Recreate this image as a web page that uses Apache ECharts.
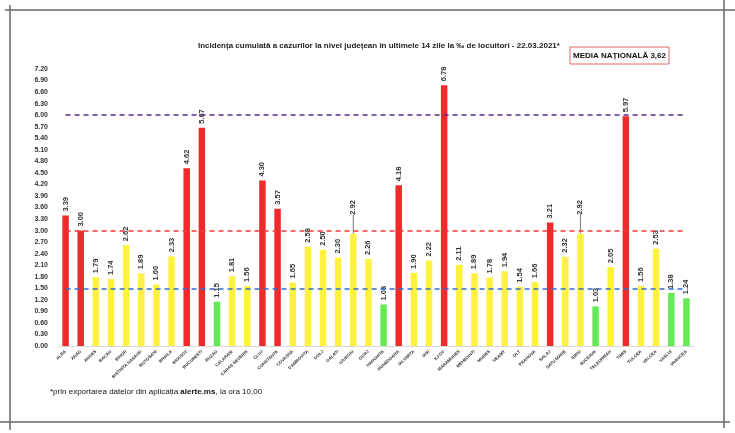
<!DOCTYPE html>
<html>
<head>
<meta charset="utf-8">
<script src="https://cdn.jsdelivr.net/npm/echarts@6/dist/echarts.min.js"></script>
<style>html,body{margin:0;padding:0;background:#fff}#c{width:735px;height:433px}</style>
</head>
<body>
<div id="c"></div>
<script>
const counties = ['ALBA','ARAD','ARGES','BACAU','BIHOR','BISTRITA NASAUD','BOTOSANI','BRAILA','BRASOV','BUCURESTI','BUZAU','CALARASI','CARAS SEVERIN','CLUJ','CONSTANTA','COVASNA','DAMBOVITA','DOLJ','GALATI','GIURGIU','GORJ','HARGHITA','HUNEDOARA','IALOMITA','IASI','ILFOV','MARAMURES','MEHEDINTI','MURES','NEAMT','OLT','PRAHOVA','SALAJ','SATU MARE','SIBIU','SUCEAVA','TELEORMAN','TIMIS','TULCEA','VALCEA','VASLUI','VRANCEA'];
const incidence = [3.39,3.00,1.79,1.74,2.62,1.89,1.60,2.33,4.62,5.67,1.15,1.81,1.56,4.30,3.57,1.65,2.58,2.50,2.30,2.92,2.26,1.08,4.18,1.90,2.22,6.78,2.11,1.89,1.78,1.94,1.54,1.66,3.21,2.32,2.92,1.03,2.05,5.97,1.56,2.53,1.38,1.24];
const thresholds = [6.0, 3.0, 1.5];
const nationalAverage = '3,62';
const raisedLabels = ['GIURGIU','SIBIU'];

const RED = '#EE2B2B', YEL = '#FFF23E', GRN = '#66E957';
function barColor(v){ return v >= thresholds[1] ? RED : (v < thresholds[2] ? GRN : YEL); }

const chart = echarts.init(document.getElementById('c'), null, {renderer:'canvas'});
const lineColors = ['#5A2A92', '#F03A3A', '#2E6FD0'];
const markData = thresholds.map((t,i) => [
  {coord:[counties[0], t], lineStyle:{color:lineColors[i], type:[5,4], width:1.5}},
  {coord:[counties[counties.length-1], t]}
]);

chart.setOption({
  animation:false,
  backgroundColor:'#fff',
  title:{
    text:'Incidența cumulată a cazurilor la nivel județean în ultimele 14 zile la ‰ de locuitori - 22.03.2021*',
    left:193, top:37,
    textStyle:{fontSize:8, fontWeight:'bold', color:'#222', fontFamily:'Liberation Sans'}
  },
  grid:{left:58, right:41, top:69, bottom:87, containLabel:false},
  xAxis:{
    type:'category', data:counties,
    axisLine:{lineStyle:{color:'#d9d9d9', width:1}},
    axisTick:{show:false},
    axisLabel:{interval:0, rotate:43, fontSize:4.3, fontWeight:'bold', color:'#333', margin:5, fontFamily:'Liberation Sans'}
  },
  yAxis:{
    type:'value', min:0, max:7.2, interval:0.3,
    splitLine:{show:false}, axisLine:{show:false}, axisTick:{show:false},
    axisLabel:{formatter:v=>v.toFixed(2), fontSize:7, fontWeight:'bold', color:'#333', margin:10, fontFamily:'Liberation Sans'}
  },
  series:[{
    type:'bar',
    data: incidence.map((v,i) => {
      const item = {value:v, itemStyle:{color:barColor(v)}};
      if (raisedLabels.indexOf(counties[i]) >= 0) item.labelLine = {show:true, lineStyle:{color:'#777', width:1}};
      return item;
    }),
    barWidth:6.5,
    label:{
      show:true, position:'top', rotate:90, align:'left', verticalAlign:'middle', distance:4,
      formatter:p=>p.value.toFixed(2), fontSize:7.5, fontWeight:'bold', color:'#333', fontFamily:'Liberation Sans'
    },
    labelLine:{show:false},
    labelLayout:function(p){
      if (raisedLabels.indexOf(counties[p.dataIndex]) >= 0) return {dx:15};
      return {};
    },
    markLine:{silent:true, symbol:'none', label:{show:false}, data:markData}
  }],
  graphic:[
    {type:'line', shape:{x1:10, y1:5, x2:10, y2:430}, style:{stroke:'#666', lineWidth:1.5}},
    {type:'line', shape:{x1:5, y1:10, x2:735, y2:10}, style:{stroke:'#666', lineWidth:1.5}},
    {type:'line', shape:{x1:724, y1:0, x2:724, y2:428}, style:{stroke:'#666', lineWidth:1.5}},
    {type:'line', shape:{x1:0, y1:422, x2:730, y2:422}, style:{stroke:'#666', lineWidth:1.5}},
    {type:'rect', shape:{x:570, y:47, width:99, height:17}, style:{fill:'#fff', stroke:'#E06666', lineWidth:1}},
    {type:'text', x:619.5, y:55.5, style:{text:'MEDIA NAȚIONALĂ ' + nationalAverage, align:'center', verticalAlign:'middle', font:'bold 8px "Liberation Sans"', fill:'#111'}},
    {type:'text', x:50, y:392, style:{
      text:'{n|*prin exportarea datelor din aplicația }{b|alerte.ms}{n|, la ora 10,00}',
      verticalAlign:'middle',
      rich:{n:{fontSize:8, fontFamily:'Liberation Sans', fill:'#111', color:'#111'}, b:{fontSize:8, fontWeight:'bold', fontFamily:'Liberation Sans', fill:'#111', color:'#111'}}
    }}
  ]
});
</script>
</body>
</html>
